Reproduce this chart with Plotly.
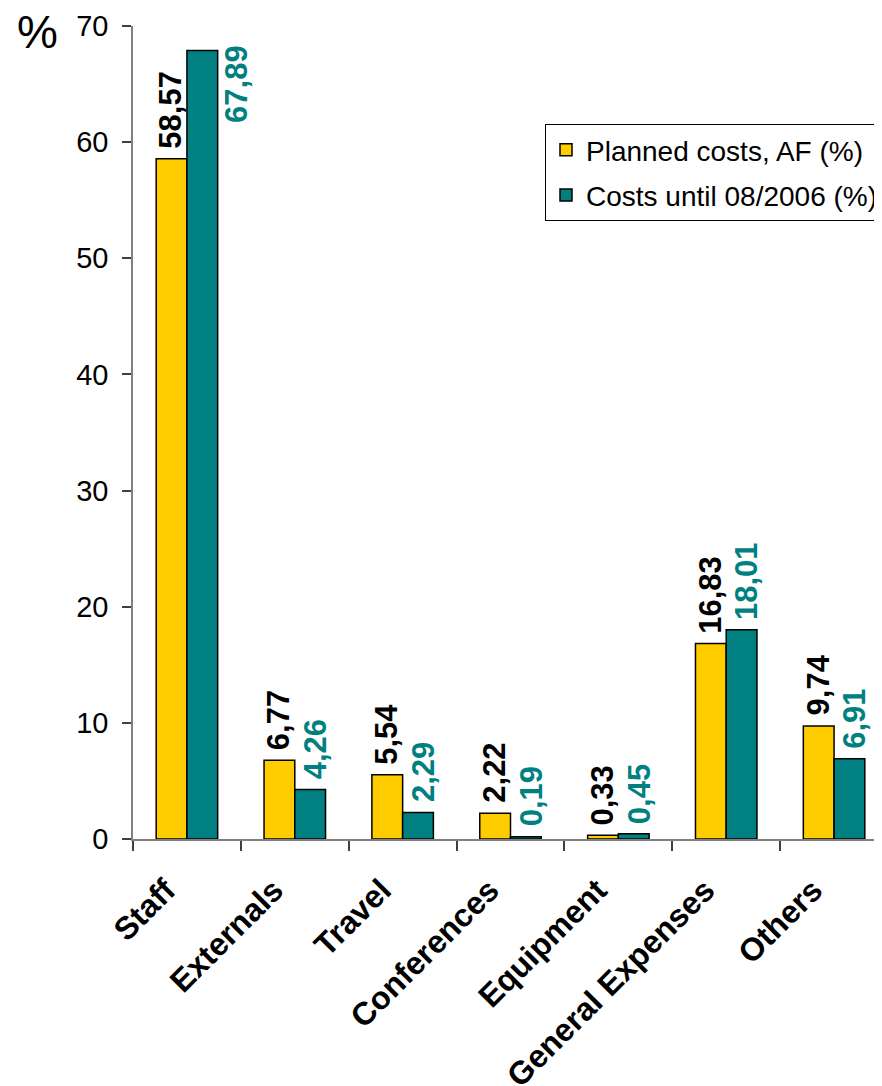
import plotly.graph_objects as go

categories = ["Staff", "Externals", "Travel", "Conferences", "Equipment",
              "General Expenses", "Others"]
planned = [58.57, 6.77, 5.54, 2.22, 0.33, 16.83, 9.74]
actual = [67.89, 4.26, 2.29, 0.19, 0.45, 18.01, 6.91]
series_names = ["Planned costs, AF (%)", "Costs until 08/2006 (%)"]
y_ticks = [0, 10, 20, 30, 40, 50, 60, 70]

YELLOW = "#FFCC00"
TEAL = "#008080"
FONT = "Liberation Sans, Arial, sans-serif"


def fmt(v):
    return f"{v:.2f}".replace(".", ",")


fig = go.Figure()
fig.add_trace(go.Bar(x=categories, y=planned, name=series_names[0],
                     marker=dict(color=YELLOW, line=dict(color="black", width=1.5)),
                     legendgroup="a"))
fig.add_trace(go.Bar(x=categories, y=actual, name=series_names[1],
                     marker=dict(color=TEAL, line=dict(color="black", width=1.5)),
                     legendgroup="b"))

annotations = []
for cat, p, a in zip(categories, planned, actual):
    annotations.append(dict(x=cat, y=p, xref="x", yref="y", text=fmt(p),
                            textangle=-90, showarrow=False, xanchor="center",
                            yanchor="bottom", xshift=-16, yshift=8,
                            font=dict(family=FONT, size=31, color="black", weight="bold")))
    if a > 60:
        annotations.append(dict(x=cat, y=a, xref="x", yref="y", text=fmt(a),
                                textangle=-90, showarrow=False, xanchor="left",
                                yanchor="top", xshift=30, yshift=8,
                                font=dict(family=FONT, size=31, color=TEAL, weight="bold")))
    else:
        annotations.append(dict(x=cat, y=a, xref="x", yref="y", text=fmt(a),
                                textangle=-90, showarrow=False, xanchor="center",
                                yanchor="bottom", xshift=21, yshift=8,
                                font=dict(family=FONT, size=31, color=TEAL, weight="bold")))

annotations.append(dict(x=-0.1265, y=0.993, xref="paper", yref="paper", text="%",
                        showarrow=False, xanchor="center", yanchor="middle",
                        borderpad=0,
                        font=dict(family=FONT, size=46, color="black")))

fig.update_layout(
    width=882, height=1086,
    margin=dict(l=125, r=2, t=18, b=255, autoexpand=False),
    paper_bgcolor="white", plot_bgcolor="white",
    barmode="group", bargap=0.43, bargroupgap=0,
    font=dict(family=FONT, color="black"),
    showlegend=True,
    legend=dict(x=0.5457, y=0.8795, xanchor="left", yanchor="top",
                bgcolor="white", bordercolor="black", borderwidth=1,
                font=dict(family=FONT, size=28, color="black"),
                traceorder="grouped", tracegroupgap=6),
    annotations=annotations,
    xaxis=dict(range=[-0.5, 6.5], showline=True, linecolor="#808080", linewidth=1.5,
               ticks="outside", tickson="boundaries", ticklen=10, tickcolor="#404040",
               tickwidth=1.5, tickangle=-45, ticklabelstandoff=18, ticklabelshift=-21,
               tickfont=dict(family=FONT, size=32, color="black", weight="bold"),
               showgrid=False, zeroline=False),
    yaxis=dict(range=[0, 70], tickvals=y_ticks, showline=True, linecolor="#808080",
               linewidth=1.5, ticks="outside", ticklen=9, tickcolor="#404040",
               tickwidth=1.5, ticklabelstandoff=8,
               tickfont=dict(family=FONT, size=29, color="black"),
               showgrid=False, zeroline=False),
)

fig.write_html("out.html")
